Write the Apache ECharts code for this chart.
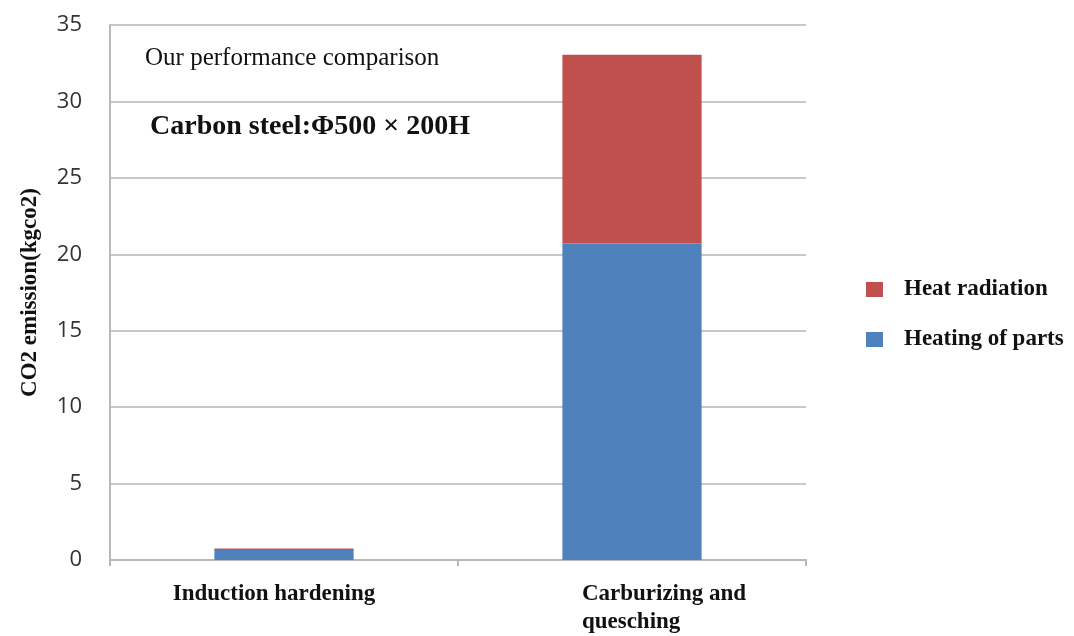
<!DOCTYPE html>
<html>
<head>
<meta charset="utf-8">
<script src="https://cdn.jsdelivr.net/npm/echarts@6/dist/echarts.min.js"></script>
<style>html,body{margin:0;padding:0;background:#fff;}#c{width:1074px;height:636px;}</style>
</head>
<body>
<div id="c"></div>
<script>
const categories = ['Induction hardening', 'Carburizing and\nquesching'];
const heatingOfParts = [0.65, 20.7];
const heatRadiation = [0.1, 12.35];
const yTicks = { min: 0, max: 35, interval: 5 };
const yAxisTitle = 'CO2 emission(kgco2)';
const note1 = 'Our performance comparison';
const note2 = 'Carbon steel:Φ500 × 200H';

const serif = '"Liberation Serif", "Times New Roman", serif';
const chart = echarts.init(document.getElementById('c'));
chart.setOption({
  animation: false,
  backgroundColor: '#ffffff',
  grid: { left: 110, right: 268, top: 25, bottom: 73, containLabel: false },
  legend: {
    orient: 'vertical',
    left: 861,
    top: 273,
    itemWidth: 17,
    itemHeight: 15,
    itemGap: 27,
    icon: 'rect',
    data: ['Heat radiation', 'Heating of parts'],
    textStyle: { fontFamily: serif, fontWeight: 'bold', fontSize: 23, lineHeight: 22, color: '#111', padding: [0, 0, 0, 16] }
  },
  xAxis: {
    type: 'category',
    data: [
      { value: categories[0], textStyle: { padding: [0, 20, 0, 0] } },
      { value: categories[1], textStyle: { padding: [0, 0, 0, 64] } }
    ],
    axisLine: { lineStyle: { color: '#b8b8b8', width: 2 } },
    axisTick: { show: true, length: 6, lineStyle: { color: '#b8b8b8', width: 2 } },
    axisLabel: {
      margin: 20,
      fontFamily: serif,
      fontWeight: 'bold',
      fontSize: 23,
      color: '#111',
      lineHeight: 28,
      interval: 0,
      formatter: function (v, i) {
        if (i === 1) {
          return v.split('\n').map(function (s) { return '{l|' + s + '}'; }).join('\n');
        }
        return v;
      },
      rich: { l: { fontFamily: serif, fontWeight: 'bold', fontSize: 23, color: '#111', lineHeight: 28, align: 'left' } }
    }
  },
  yAxis: {
    type: 'value',
    min: yTicks.min,
    max: yTicks.max,
    interval: yTicks.interval,
    name: yAxisTitle,
    nameLocation: 'middle',
    nameGap: 68,
    nameTextStyle: { fontFamily: serif, fontWeight: 'bold', fontSize: 23, color: '#111' },
    axisLine: { show: true, lineStyle: { color: '#b8b8b8', width: 2 } },
    axisTick: { show: false },
    axisLabel: { margin: 28, fontFamily: '"Open Sans", sans-serif', fontSize: 22, color: '#333' },
    splitLine: { lineStyle: { color: '#c8c8c8', width: 2 } }
  },
  series: [
    {
      name: 'Heating of parts',
      type: 'bar',
      stack: 'total',
      barWidth: '40%',
      itemStyle: { color: '#4F81BD' },
      data: heatingOfParts
    },
    {
      name: 'Heat radiation',
      type: 'bar',
      stack: 'total',
      barWidth: '40%',
      itemStyle: { color: '#C0504D' },
      data: heatRadiation
    }
  ],
  graphic: [
    { type: 'text', left: 145, top: 46, style: { text: note1, font: '25px ' + serif, fill: '#111' } },
    { type: 'text', left: 150, top: 113, style: { text: note2, font: 'bold 28px ' + serif, fill: '#111' } }
  ]
});
</script>
</body>
</html>
